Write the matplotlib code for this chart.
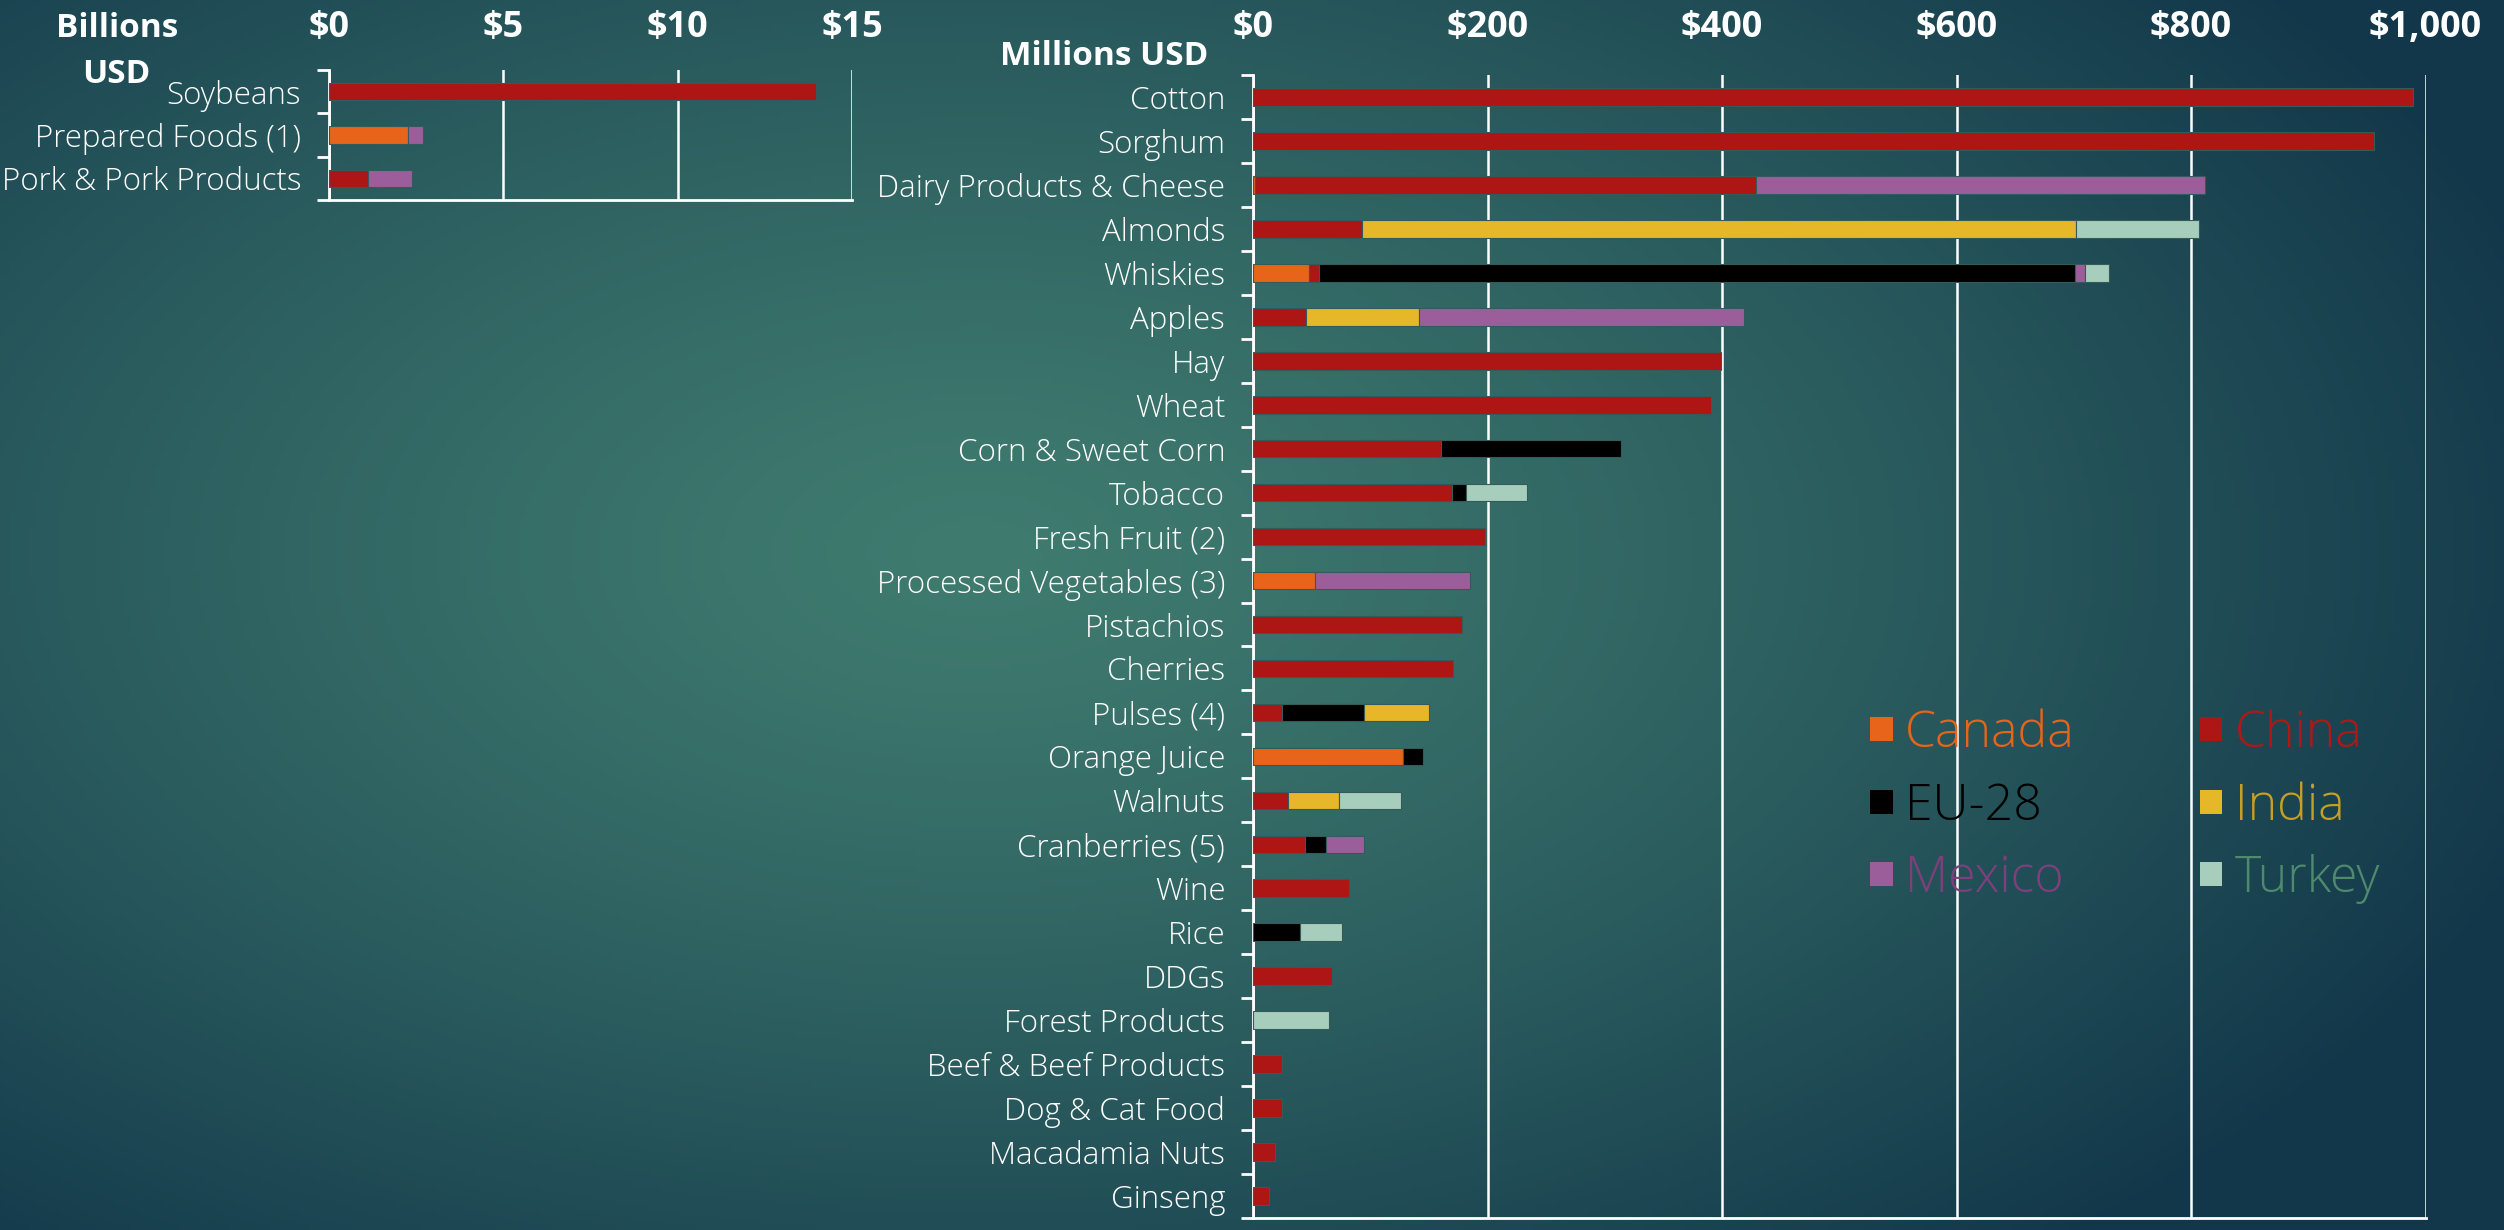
# US agricultural exports hit by retaliatory tariffs, by country
import numpy as np
import matplotlib.pyplot as plt
from matplotlib.patches import Patch

plt.rcParams['font.family'] = ['Open Sans', 'DejaVu Sans']

countries = ['Canada', 'China', 'EU-28', 'India', 'Mexico', 'Turkey']
bar_colors = ['#E8641A', '#AE1616', '#000000', '#E5B729', '#9C5E9A', '#A7CDBC']
text_colors = ['#E8641A', '#B01818', '#000000', '#C89F22', '#7E407C', '#4F8A6E']

# inset, billions USD
big_items = ['Soybeans', 'Prepared Foods (1)', 'Pork & Pork Products']
big_canada = [0, 2.26, 0]
big_china = [13.97, 0, 1.13]
big_eu = [0, 0, 0]
big_india = [0, 0, 0]
big_mexico = [0, 0.45, 1.26]
big_turkey = [0, 0, 0]

# main chart, millions USD
items = ['Cotton', 'Sorghum', 'Dairy Products & Cheese', 'Almonds', 'Whiskies',
         'Apples', 'Hay', 'Wheat', 'Corn & Sweet Corn', 'Tobacco',
         'Fresh Fruit (2)', 'Processed Vegetables (3)', 'Pistachios', 'Cherries',
         'Pulses (4)', 'Orange Juice', 'Walnuts', 'Cranberries (5)', 'Wine',
         'Rice', 'DDGs', 'Forest Products', 'Beef & Beef Products',
         'Dog & Cat Food', 'Macadamia Nuts', 'Ginseng']
canada = [0, 0, 2, 0, 48, 0, 0, 0, 0, 0, 0, 53, 0, 0, 0, 128, 0, 0, 0, 0, 0, 0, 0, 0, 0, 0]
china = [989, 956, 427, 93, 8, 45, 399, 391, 160, 170, 198, 0, 178, 171,
         25, 0, 30, 44, 82, 0, 67, 0, 25, 25, 19, 14]
eu = [0, 0, 0, 0, 645, 0, 0, 0, 154, 12, 0, 0, 0, 0, 70, 17, 0, 18, 0, 40, 0, 0, 0, 0, 0, 0]
india = [0, 0, 0, 609, 0, 97, 0, 0, 0, 0, 0, 0, 0, 0, 55, 0, 43, 0, 0, 0, 0, 0, 0, 0, 0, 0]
mexico = [0, 0, 383, 0, 9, 277, 0, 0, 0, 0, 0, 132, 0, 0, 0, 0, 0, 33, 0, 0, 0, 0, 0, 0, 0, 0]
turkey = [0, 0, 0, 105, 20, 0, 0, 0, 0, 52, 0, 0, 0, 0, 0, 0, 53, 0, 0, 36, 0, 65, 0, 0, 0, 0]

main_ticks = [0, 200, 400, 600, 800, 1000]
main_ticklabels = ['$0', '$200', '$400', '$600', '$800', '$1,000']
big_ticks = [0, 5, 10, 15]
big_ticklabels = ['$0', '$5', '$10', '$15']

W, H = 2504, 1230
fig = plt.figure(figsize=(W / 100, H / 100), dpi=100)

# background radial gradient
bg = fig.add_axes([0, 0, 1, 1], zorder=-10)
gx, gy = np.meshgrid(np.linspace(0, 1, 500), np.linspace(0, 1, 250))
t = np.sqrt(((gx - 0.39) / 0.66) ** 2 + ((gy - 0.45) / 0.75) ** 2)
t = np.clip(t, 0, 1) ** 1.3
c0 = np.array([0x3F, 0x7B, 0x6F]) / 255
c1 = np.array([0x12, 0x37, 0x4A]) / 255
img = c0[None, None, :] * (1 - t[..., None]) + c1[None, None, :] * t[..., None]
bg.imshow(img, aspect='auto', extent=[0, 1, 1, 0])
bg.set_axis_off()


def stacked(ax, labels, series, height):
    y = np.arange(len(labels))
    left = np.zeros(len(labels))
    for vals, col in zip(series, bar_colors):
        vals = np.array(vals, dtype=float)
        m = vals > 0
        ax.barh(y[m], vals[m], left=left[m], height=height, color=col,
                edgecolor='#355a5a', linewidth=0.8, zorder=3)
        left += vals
    ax.set_ylim(len(labels) - 0.5, -0.5)
    ax.set_yticks(y, labels)
    ax.set_yticks(np.arange(-0.5, len(labels), 1), minor=True)
    ax.tick_params(axis='y', which='major', length=0, pad=20,
                   labelsize=22.5, labelcolor='white')
    ax.tick_params(axis='y', which='minor', length=9, width=2, color='white')
    ax.xaxis.tick_top()
    ax.grid(axis='x', color='white', linewidth=1.8, zorder=1)
    ax.set_facecolor('none')
    for s in ['top', 'right']:
        ax.spines[s].set_visible(False)
    for s in ['left', 'bottom']:
        ax.spines[s].set_color('white')
        ax.spines[s].set_linewidth(2)
    for lab in ax.get_yticklabels():
        lab.set_fontweight('light')


# inset
ax2 = fig.add_axes([329 / W, 1 - 200 / H, (852 - 329) / W, 130 / H])
stacked(ax2, big_items,
        [big_canada, big_china, big_eu, big_india, big_mexico, big_turkey], 0.4)
ax2.set_xlim(0, 15)
ax2.set_xticks(big_ticks, big_ticklabels)
ax2.tick_params(axis='x', length=0, pad=17, labelsize=26, labelcolor='white')
for lab in ax2.get_xticklabels():
    lab.set_fontweight('bold')

# main
ax = fig.add_axes([1253 / W, 1 - 1218 / H, (2425.5 - 1253) / W, (1218 - 75) / H])
stacked(ax, items, [canada, china, eu, india, mexico, turkey], 0.4)
ax.set_xlim(0, 1000)
ax.set_xticks(main_ticks, main_ticklabels)
ax.tick_params(axis='x', length=0, pad=21, labelsize=26, labelcolor='white')
for lab in ax.get_xticklabels():
    lab.set_fontweight('bold')

fig.text(117 / W, 1 - 37 / H, 'Billions', ha='center', va='baseline',
         fontsize=24, fontweight='bold', color='white')
fig.text(116 / W, 1 - 83 / H, 'USD', ha='center', va='baseline',
         fontsize=24, fontweight='bold', color='white')
fig.text(1208 / W, 1 - 65 / H, 'Millions USD', ha='right', va='baseline',
         fontsize=24, fontweight='bold', color='white')

# legend: first column Canada, EU-28, Mexico; second China, India, Turkey
order = [0, 2, 4, 1, 3, 5]
handles = [Patch(facecolor=bar_colors[i], edgecolor='none') for i in order]
leg = fig.legend(handles, [countries[i] for i in order], loc='upper left',
                 bbox_to_anchor=(1870 / W, 1 - 709 / H), ncol=2, frameon=False,
                 fontsize=36, handlelength=0.45, handleheight=0.36,
                 handletextpad=0.25, columnspacing=2.5, labelspacing=0.45,
                 borderpad=0, borderaxespad=0)
for txt, i in zip(leg.get_texts(), order):
    txt.set_color(text_colors[i])
    txt.set_fontweight('light')

fig.savefig('out.png', dpi=100)
